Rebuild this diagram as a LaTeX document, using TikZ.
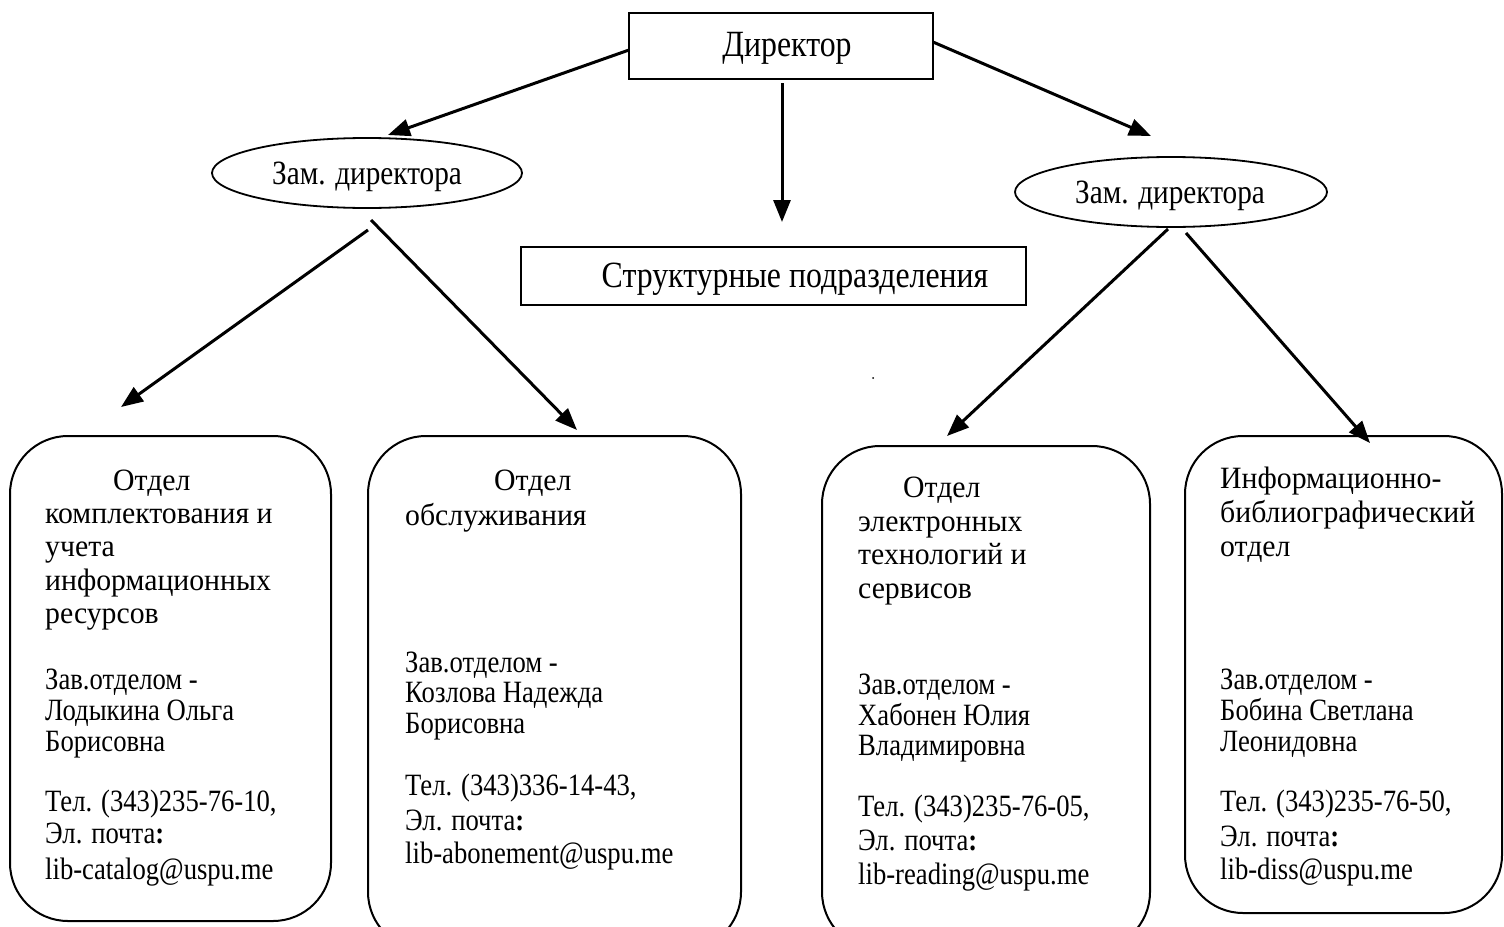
\documentclass[tikz,border=0pt]{standalone}
\usepackage{fontspec}
\setmainfont[FakeStretch=0.86]{Liberation Serif}
\newfontfamily\widefam[FakeStretch=0.96]{Liberation Serif}
\usetikzlibrary{arrows.meta}
\newcommand{\bodyfont}{\fontsize{31}{33}\selectfont}
\newcommand{\titlefont}{\widefam\fontsize{31}{33}\selectfont}
\newcommand{\bigfont}{\fontsize{37}{40}\selectfont}
\newcommand{\elfont}{\fontsize{34}{36}\selectfont}
\tikzset{
  conn/.style={line width=3pt, -{Triangle[length=22pt,width=17pt]}},
  dept/.style={draw, line width=2pt, rounded corners=58pt, inner sep=0pt},
  plainbox/.style={draw, line width=2pt, inner sep=0pt},
  txt/.style={anchor=base west, inner sep=0pt, font=\bodyfont},
  ttl/.style={anchor=base west, inner sep=0pt, font=\titlefont},
}
\begin{document}
\begin{tikzpicture}[x=1pt,y=-1pt]
\clip (0,0) rectangle (1504,926);
\fill[white] (0,0) rectangle (1504,926);
% top boxes
\node[plainbox, minimum width=304pt, minimum height=66pt] (dir) at (781,46) {};
\node[anchor=base, inner sep=0pt, font=\bigfont] (dirt) at (787,56) {Директор};
\node[plainbox, minimum width=505pt, minimum height=58pt] (str) at (773.5,276) {};
\node[anchor=base, inner sep=0pt, font=\bigfont] (strt) at (795,287) {Структурные подразделения};
% ellipses
\draw[line width=1.8pt] (367,173) ellipse [x radius=155, y radius=35];
\node[anchor=base, inner sep=0pt, font=\elfont] (zam1) at (367,184) {Зам. директора};
\draw[line width=1.8pt] (1171,192) ellipse [x radius=156, y radius=35];
\node[anchor=base, inner sep=0pt, font=\elfont] (zam2) at (1170,203) {Зам. директора};
% department boxes
\draw[dept] (10,436) rectangle (331,921);
\draw[dept] (368,436) rectangle (741,950);
\draw[dept] (822,446) rectangle (1150,950);
\draw[dept] (1185,436) rectangle (1502,913);
% connectors
\coordinate (p1) at (629,50);   \coordinate (q1) at (388,135);
\coordinate (p2) at (933,42);   \coordinate (q2) at (1151,136);
\coordinate (p3) at (782,83);   \coordinate (q3) at (782,222);
\coordinate (p4) at (368,230);  \coordinate (q4) at (121,407);
\coordinate (p5) at (371,220);  \coordinate (q5) at (577,430);
\coordinate (p6) at (1168,229); \coordinate (q6) at (947,436);
\coordinate (p7) at (1186,233); \coordinate (q7) at (1370,443);
\draw[conn] (p1) -- (q1);
\draw[conn] (p2) -- (q2);
\draw[conn] (p3) -- (q3);
\draw[conn] (p4) -- (q4);
\draw[conn] (p5) -- (q5);
\draw[conn] (p6) -- (q6);
\draw[conn] (p7) -- (q7);
\fill (873,378) circle (1pt);
% box 1 text
\node[ttl] (a1) at (113,490) {Отдел};
\node[ttl] (a2) at (45,523) {комплектования и};
\node[ttl] (a3) at (45,556) {учета};
\node[ttl] (a4) at (45,590) {информационных};
\node[ttl] (a5) at (45,623) {ресурсов};
\node[txt] (a6) at (45,689) {Зав.отделом -};
\node[txt] (a7) at (45,720) {Лодыкина Ольга};
\node[txt] (a8) at (45,751) {Борисовна};
\node[txt] (a9) at (45,811) {Тел. (343)235-76-10,};
\node[txt] (a10) at (45,843) {Эл. почта\textbf{:}};
\node[txt] (a11) at (45,879) {lib-catalog@uspu.me};
% box 2 text
\node[ttl] (b1) at (494,490) {Отдел};
\node[ttl] (b2) at (405,525) {обслуживания};
\node[txt] (b3) at (405,672) {Зав.отделом -};
\node[txt] (b4) at (405,702) {Козлова Надежда};
\node[txt] (b5) at (405,733) {Борисовна};
\node[txt] (b6) at (405,795) {Тел. (343)336-14-43,};
\node[txt] (b7) at (405,830) {Эл. почта\textbf{:}};
\node[txt] (b8) at (405,863) {lib-abonement@uspu.me};
% box 3 text
\node[ttl] (c1) at (903,497) {Отдел};
\node[ttl] (c2) at (858,531) {электронных};
\node[ttl] (c3) at (858,564) {технологий и};
\node[ttl] (c4) at (858,598) {сервисов};
\node[txt] (c5) at (858,694) {Зав.отделом -};
\node[txt] (c6) at (858,725) {Хабонен Юлия};
\node[txt] (c7) at (858,755) {Владимировна};
\node[txt] (c8) at (858,816) {Тел. (343)235-76-05,};
\node[txt] (c9) at (858,850) {Эл. почта\textbf{:}};
\node[txt] (c10) at (858,884) {lib-reading@uspu.me};
% box 4 text
\node[ttl] (d1) at (1220,488) {Информационно-};
\node[ttl] (d2) at (1220,522) {библиографический};
\node[ttl] (d3) at (1220,556) {отдел};
\node[txt] (d4) at (1220,689) {Зав.отделом -};
\node[txt] (d5) at (1220,720) {Бобина Светлана};
\node[txt] (d6) at (1220,751) {Леонидовна};
\node[txt] (d7) at (1220,811) {Тел. (343)235-76-50,};
\node[txt] (d8) at (1220,846) {Эл. почта\textbf{:}};
\node[txt] (d9) at (1220,879) {lib-diss@uspu.me};
\end{tikzpicture}
\end{document}
